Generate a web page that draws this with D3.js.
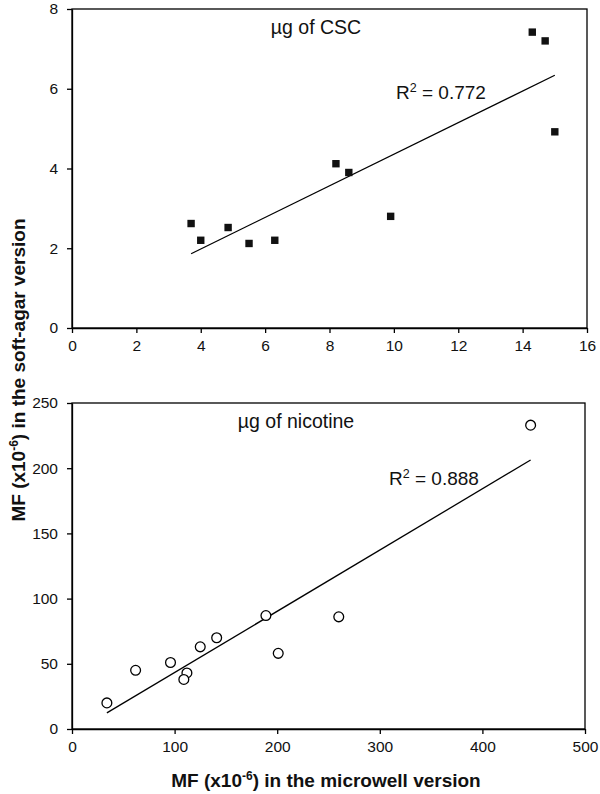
<!DOCTYPE html>
<html>
<head>
<meta charset="utf-8">
<script src="https://cdn.jsdelivr.net/npm/d3@7"></script>
<style>
  html, body { margin: 0; padding: 0; background: #fff; }
  svg { display: block; font-family: "Liberation Sans", Arial, sans-serif; }
</style>
</head>
<body>
<svg id="chart" width="600" height="794"></svg>
<script>
// ---- Data ----
const cscX = [3.7, 4.0, 4.85, 5.5, 6.3, 8.2, 8.6, 9.9, 14.3, 14.7, 15.0];
const cscY = [2.62, 2.2, 2.52, 2.12, 2.2, 4.12, 3.9, 2.8, 7.42, 7.2, 4.92];
const nicX = [34, 62, 96, 112, 109, 125, 141, 189, 201, 260, 447];
const nicY = [20, 45, 51, 43, 38, 63, 70, 87, 58, 86, 233];

const cscXTicks = [0, 2, 4, 6, 8, 10, 12, 14, 16];
const cscYTicks = [0, 2, 4, 6, 8];
const nicXTicks = [0, 100, 200, 300, 400, 500];
const nicYTicks = [0, 50, 100, 150, 200, 250];

const cscLabel = "µg of CSC";
const nicLabel = "µg of nicotine";
const cscR2 = "0.772";
const nicR2 = "0.888";
const xTitle = ["MF (x10", "-6", ") in the microwell version"];
const yTitle = ["MF (x10", "-6", ") in the soft-agar version"];

const svg = d3.select("#chart");

function linfit(xs, ys) {
  const mx = d3.mean(xs), my = d3.mean(ys);
  let sxy = 0, sxx = 0;
  xs.forEach((x, i) => { sxy += (x - mx) * (ys[i] - my); sxx += (x - mx) * (x - mx); });
  const b = sxy / sxx;
  return { b, a: my - b * mx };
}

function panel(opt) {
  const { left, right, top, bottom, xDom, yDom, xTicks, yTicks, xs, ys, marker, label, labelPos, r2, r2Pos } = opt;
  const x = d3.scaleLinear().domain(xDom).range([left, right]);
  const y = d3.scaleLinear().domain(yDom).range([bottom, top]);
  const g = svg.append("g");

  // frame
  g.append("rect").attr("x", left).attr("y", top)
    .attr("width", right - left).attr("height", bottom - top)
    .attr("fill", "none").attr("stroke", "#000").attr("stroke-width", 1.3);

  const xa = g.append("g").attr("transform", `translate(0,${bottom})`)
    .call(d3.axisBottom(x).tickValues(xTicks).tickFormat(d3.format("d")).tickSize(5).tickSizeOuter(0).tickPadding(7));
  const ya = g.append("g").attr("transform", `translate(${left},0)`)
    .call(d3.axisLeft(y).tickValues(yTicks).tickFormat(d3.format("d")).tickSize(5).tickSizeOuter(0).tickPadding(9));
  [xa, ya].forEach(a => {
    a.select(".domain").attr("stroke-width", 1.3);
    a.selectAll(".tick line").attr("stroke-width", 1.3);
    a.selectAll(".tick text").attr("font-size", 15.5).attr("fill", "#111")
      .attr("font-family", "'Liberation Sans', Arial, sans-serif");
  });

  // regression line
  const fit = linfit(xs, ys);
  const x0 = d3.min(xs), x1 = d3.max(xs);
  g.append("line")
    .attr("x1", x(x0)).attr("y1", y(fit.a + fit.b * x0))
    .attr("x2", x(x1)).attr("y2", y(fit.a + fit.b * x1))
    .attr("stroke", "#000").attr("stroke-width", 1.3);

  // points
  const pts = xs.map((v, i) => [v, ys[i]]);
  if (marker === "square") {
    g.selectAll("rect.pt").data(pts).join("rect").attr("class", "pt")
      .attr("x", d => x(d[0]) - 3.7).attr("y", d => y(d[1]) - 3.7)
      .attr("width", 7.4).attr("height", 7.4).attr("fill", "#111");
  } else {
    g.selectAll("circle.pt").data(pts).join("circle").attr("class", "pt")
      .attr("cx", d => x(d[0])).attr("cy", d => y(d[1])).attr("r", 4.9)
      .attr("fill", "#fff").attr("stroke", "#000").attr("stroke-width", 1.3);
  }

  g.append("text").attr("x", labelPos[0]).attr("y", labelPos[1])
    .attr("text-anchor", "middle").attr("font-size", 19.5).attr("fill", "#111").text(label);

  const t = g.append("text").attr("x", r2Pos[0]).attr("y", r2Pos[1])
    .attr("font-size", 19).attr("fill", "#111");
  t.append("tspan").text("R");
  t.append("tspan").attr("font-size", 12.5).attr("dy", -7).text("2");
  t.append("tspan").attr("dy", 7).text(" = " + r2);
}

panel({
  left: 72, right: 587, top: 9, bottom: 328,
  xDom: [0, 16], yDom: [0, 8], xTicks: cscXTicks, yTicks: cscYTicks,
  xs: cscX, ys: cscY, marker: "square",
  label: cscLabel, labelPos: [316, 34], r2: cscR2, r2Pos: [396, 99]
});

panel({
  left: 72, right: 585, top: 403, bottom: 729,
  xDom: [0, 500], yDom: [0, 250], xTicks: nicXTicks, yTicks: nicYTicks,
  xs: nicX, ys: nicY, marker: "circle",
  label: nicLabel, labelPos: [296, 428], r2: nicR2, r2Pos: [389, 485]
});

// axis titles
const xt = svg.append("text").attr("x", 326).attr("y", 787)
  .attr("text-anchor", "middle").attr("font-size", 19).attr("font-weight", "bold").attr("fill", "#111");
xt.append("tspan").text(xTitle[0]);
xt.append("tspan").attr("font-size", 12).attr("dy", -7).text(xTitle[1]);
xt.append("tspan").attr("dy", 7).text(xTitle[2]);

const yt = svg.append("text").attr("transform", "translate(25,370) rotate(-90)")
  .attr("text-anchor", "middle").attr("font-size", 19).attr("font-weight", "bold").attr("fill", "#111");
yt.append("tspan").text(yTitle[0]);
yt.append("tspan").attr("font-size", 12).attr("dy", -7).text(yTitle[1]);
yt.append("tspan").attr("dy", 7).text(yTitle[2]);
</script>
</body>
</html>
